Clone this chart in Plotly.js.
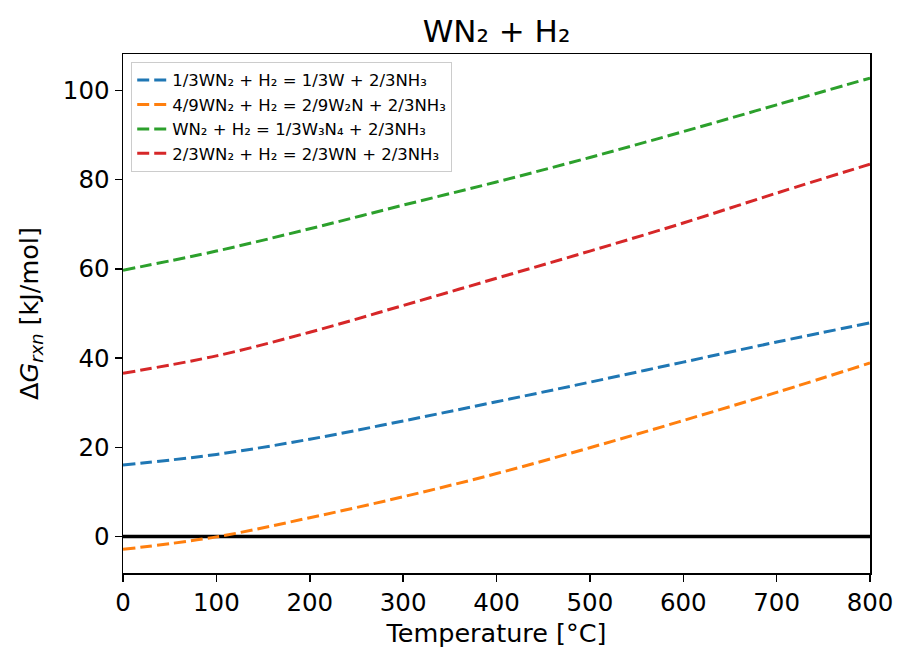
<!DOCTYPE html>
<html>
<head>
<meta charset="utf-8">
<script src="https://cdn.plot.ly/plotly-3.0.1.min.js"></script>
<style>html,body{margin:0;padding:0;background:#fff;}#chart{width:898px;height:658px;}</style>
</head>
<body>
<div id="chart"></div>
<script>
const temperature = [0, 100, 200, 300, 400, 500, 600, 700, 800];
const seriesNames = [
  "1/3WN₂ + H₂ = 1/3W + 2/3NH₃",
  "4/9WN₂ + H₂ = 2/9W₂N + 2/3NH₃",
  "WN₂ + H₂ = 1/3W₃N₄ + 2/3NH₃",
  "2/3WN₂ + H₂ = 2/3WN + 2/3NH₃"
];
const dG_W = [16.0, 18.4, 21.8, 25.9, 30.2, 34.6, 39.1, 43.6, 47.9];
const dG_W2N = [-2.9, -0.1, 4.2, 8.9, 14.1, 19.9, 26.0, 32.3, 38.9];
const dG_W3N4 = [59.7, 64.0, 69.0, 74.3, 79.5, 85.0, 90.8, 96.8, 102.8];
const dG_WN = [36.6, 40.5, 45.8, 51.8, 57.9, 64.0, 70.3, 77.0, 83.5];
const xTicks = [0, 100, 200, 300, 400, 500, 600, 700, 800];
const yTicks = [0, 20, 40, 60, 80, 100];

const colors = ["#1f77b4", "#ff7f0e", "#2ca02c", "#d62728"];
const allSeries = [dG_W, dG_W2N, dG_W3N4, dG_WN];

const traces = allSeries.map((ys, i) => ({
  x: temperature,
  y: ys,
  name: seriesNames[i],
  type: "scatter",
  mode: "lines",
  line: {color: colors[i], width: 3, dash: "12px,5px", shape: "spline"}
}));

const font = "DejaVu Sans, sans-serif";
const layout = {
  width: 898,
  height: 658,
  margin: {l: 123, r: 28, t: 54, b: 85},
  paper_bgcolor: "#fff",
  plot_bgcolor: "#fff",
  font: {family: font, color: "#000", size: 24},
  title: {
    text: "WN₂ + H₂",
    font: {family: font, size: 31, color: "#000"},
    x: 0.5, xanchor: "center", xref: "paper",
    y: 1 - 31/658, yanchor: "middle", yref: "container"
  },
  xaxis: {
    range: [0, 800],
    tickvals: xTicks,
    ticktext: xTicks.map(String),
    ticks: "outside", ticklen: 7, tickwidth: 1.5, tickcolor: "#000",
    showline: true, linecolor: "#000", linewidth: 1.5, mirror: true,
    showgrid: false, zeroline: false,
    tickfont: {family: font, size: 24.5, color: "#000"},
    title: {text: "Temperature [°C]", font: {family: font, size: 25.5, color: "#000"}, standoff: 8}
  },
  yaxis: {
    range: [-8.2, 108.2],
    tickvals: yTicks,
    ticktext: yTicks.map(String),
    ticks: "outside", ticklen: 7, tickwidth: 1.5, tickcolor: "#000",
    showline: true, linecolor: "#000", linewidth: 1.5, mirror: true,
    showgrid: false, zeroline: false,
    tickfont: {family: font, size: 24.5, color: "#000"},
    title: {text: "Δ<i>G</i><sub><i>rxn</i></sub> [kJ/mol]", font: {family: font, size: 25.5, color: "#000"}, standoff: 17}
  },
  showlegend: true,
  legend: {
    x: 0.011, y: 0.985, xanchor: "left", yanchor: "top",
    bgcolor: "rgba(255,255,255,0.9)", bordercolor: "#cccccc", borderwidth: 1,
    font: {family: font, size: 16.5, color: "#000"},
    traceorder: "normal", itemwidth: 30, tracegroupgap: 0
  },
  shapes: [{
    type: "line", xref: "paper", yref: "y", x0: 0, x1: 1, y0: 0, y1: 0,
    line: {color: "#000", width: 3.5}, layer: "below"
  }]
};

Plotly.newPlot("chart", traces, layout, {displayModeBar: false, staticPlot: true});
</script>
</body>
</html>
